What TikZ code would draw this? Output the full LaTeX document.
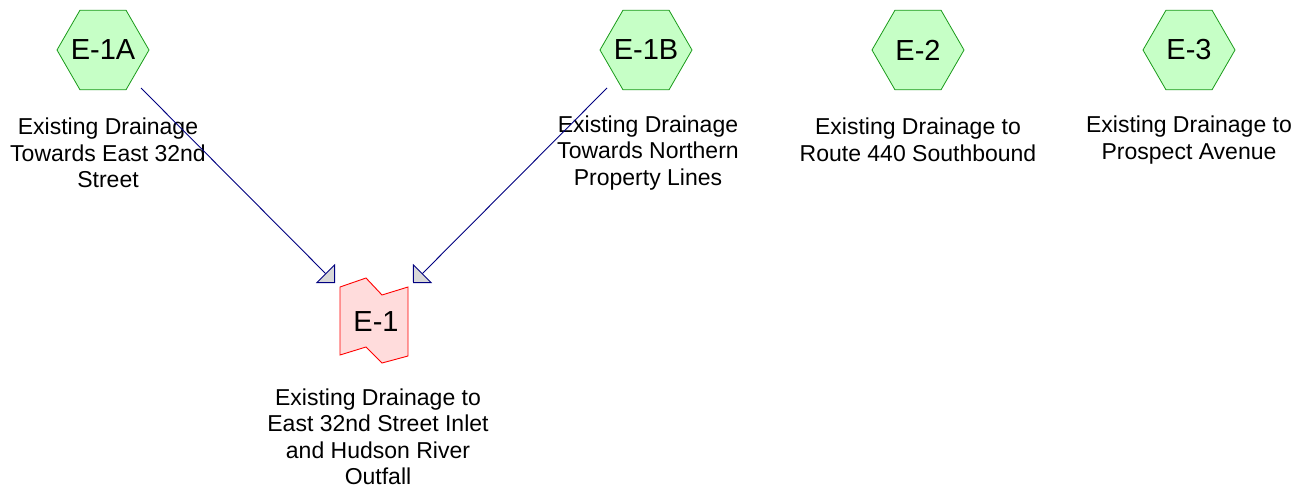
\documentclass[tikz,border=0pt]{standalone}
\usepackage{fontspec}
\setmainfont{Liberation Sans}
\usetikzlibrary{shapes.geometric,arrows.meta}
\definecolor{hexfill}{HTML}{C6FFC6}
\definecolor{hexline}{HTML}{1A9A1A}
\definecolor{reachfill}{HTML}{FFDCDC}
\definecolor{reachline}{HTML}{FF0000}
\definecolor{flowline}{HTML}{000080}
\definecolor{tipfill}{HTML}{D8D8D8}
\tikzset{
  hexnode/.style={regular polygon, regular polygon sides=6, minimum size=92pt, inner sep=0pt,
    draw=hexline, fill=hexfill, line width=0.8pt,
    label={[font=\fontsize{29}{32}\selectfont, inner sep=0pt]center:#1}},
  lbl/.style={align=center, inner sep=0pt, font=\fontsize{23}{26.5}\selectfont},
  flow/.style={draw=flowline, line width=0.9pt,
    -{Triangle[length=13.5pt,width=27pt,fill=tipfill,line width=0.9pt]}},
}
\begin{document}
\begin{tikzpicture}[x=1pt,y=-1pt]
\useasboundingbox (0,0) rectangle (1307,498);
% hexagons
\node[hexnode=E-1A] (E1A) at (103,50) {};
\node[hexnode=E-1B] (E1B) at (646,50) {};
\node[hexnode=E-2] (E2) at (918,50) {};
\node[hexnode=E-3] (E3) at (1189,50) {};
% labels
\node[lbl] (L1A) at (108,153) {Existing Drainage\\Towards East 32nd\\Street};
\node[lbl] (L1B) at (648,153) {Existing Drainage\\Towards Northern\\Property Lines};
\node[lbl] (L2) at (918,140) {Existing Drainage to\\Route 440 Southbound};
\node[lbl] (L3) at (1189,140) {Existing Drainage to\\Prospect Avenue};
% reach shape E-1
\draw[draw=reachline, fill=reachfill, line width=0.9pt, line join=miter]
  (340,287) -- (366,278) -- (382,295) -- (408,287) -- (408,356) -- (382,363) -- (366,347) -- (340,355) -- cycle;
\node[font=\fontsize{29}{32}\selectfont, inner sep=0pt] (E1) at (376,322) {E-1};
\node[lbl] (L1) at (378,437) {Existing Drainage to\\East 32nd Street Inlet\\and Hudson River\\Outfall};
% connectors
\coordinate (a1s) at (141,88);
\coordinate (a1e) at (335,283);
\coordinate (a2s) at (607,88);
\coordinate (a2e) at (413,283);
\draw[flow] (a1s) -- (a1e);
\draw[flow] (a2s) -- (a2e);
\end{tikzpicture}
\end{document}
